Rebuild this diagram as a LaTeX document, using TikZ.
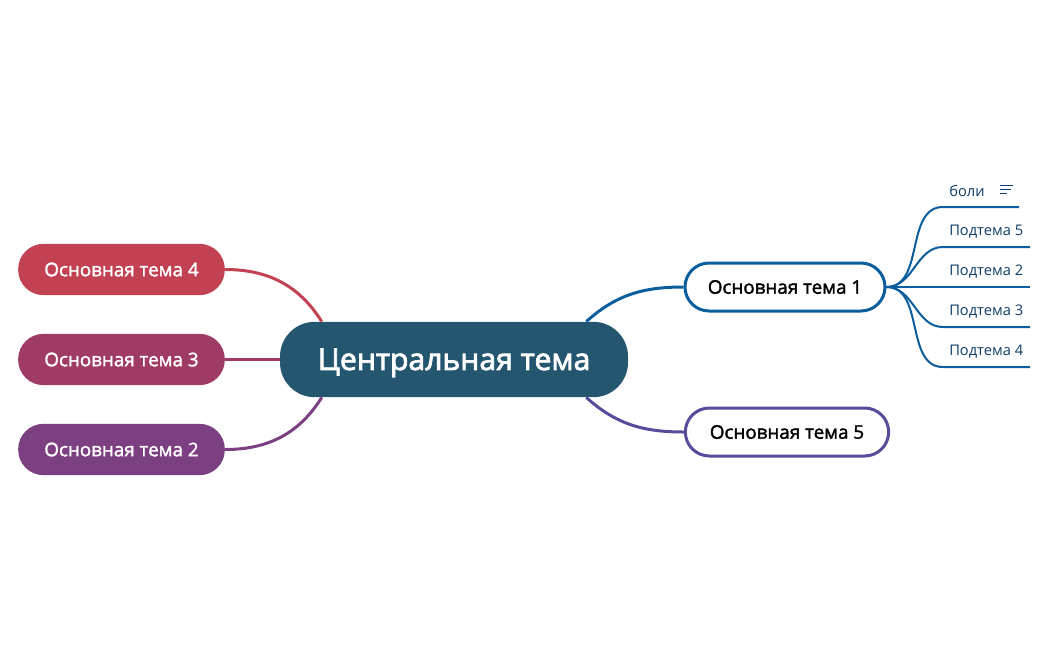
\documentclass[tikz,border=0pt]{standalone}
\usepackage{fontspec}
\setmainfont{Open Sans}
\newfontfamily\medfont[FakeBold=1.8]{Open Sans}
\newfontfamily\corefont[FakeBold=2.6]{Open Sans}
\definecolor{coreblue}{HTML}{24566F}
\definecolor{redtopic}{HTML}{C24152}
\definecolor{wine}{HTML}{A03B66}
\definecolor{plum}{HTML}{7C3F82}
\definecolor{seablue}{HTML}{0B5E9E}
\definecolor{indigo}{HTML}{574C9B}
\definecolor{subtext}{HTML}{0F3D66}
\tikzset{
    filledtopic/.style={rectangle,rounded corners=19pt,minimum width=155pt,minimum height=38.5pt,text=white,font=\medfont\fontsize{14.1pt}{16pt}\selectfont},
    linetopic/.style={rectangle,rounded corners=18pt,draw,line width=2.25pt,fill=white,minimum height=36pt,text=black,font=\medfont\fontsize{14.1pt}{16pt}\selectfont},
    subtopic/.style={anchor=west,inner sep=0pt,text=subtext,font=\fontsize{11pt}{13pt}\selectfont},
    branch/.style={line width=2.25pt},
    subbranch/.style={line width=1.5pt,seablue}
}
\begin{document}
\begin{tikzpicture}[x=0.75pt,y=-0.75pt]
            \useasboundingbox (0,0) rectangle (1048,650);

            \node[rectangle,rounded corners=26pt,fill=coreblue,minimum width=261pt,minimum height=56.5pt,text height=20pt,text depth=4.3pt,text=white,font=\corefont\fontsize{22.6pt}{26pt}\selectfont] (central) at (454,359.5) {Центральная тема};

            \begin{scope}[every node/.style={filledtopic}]
                \node[fill=redtopic] (topicD) at (121.5,269.5) {Основная тема 4};
                \node[fill=wine] (topicC) at (121.5,359.5) {Основная тема 3};
                \node[fill=plum] (topicB) at (121.5,449.5) {Основная тема 2};
            \end{scope}

            \begin{scope}[every node/.style={linetopic}]
                \node[draw=seablue,minimum width=150pt] (topicA) at (785,287) {Основная тема 1};
                \node[draw=indigo,minimum width=152.5pt] (topicE) at (787,432) {Основная тема 5};
            \end{scope}

            \begin{scope}[every node/.style={subtopic}]
                \node (pain) at (949,191) {боли};
                \node (subE) at (949,232) {Подтема 5};
                \node (subB) at (949,272) {Подтема 2};
                \node (subC) at (949,312) {Подтема 3};
                \node (subD) at (949,352) {Подтема 4};
            \end{scope}

            \begin{scope}[branch]
                \path [redtopic] (central.164.3) edge [out=122,in=0] (topicD.east);
                \path [wine] (central.west) edge (topicC.east);
                \path [plum] (central.196.7) edge [out=238,in=0] (topicB.east);
                \path [seablue] (central.16.3) edge [out=42,in=180] (topicA.west);
                \path [indigo] (central.-16.3) edge [out=-42,in=180] (topicE.west);
            \end{scope}

            % free ends of the sub-branches
            \coordinate (bendpain) at (943,207);
            \coordinate (endpain) at (1019,207);
            \foreach \name/\ypos in {E/247,B/287,C/327,D/367} {
                \coordinate (bend\name) at (943,\ypos);
                \coordinate (end\name) at (1030,\ypos);
            }

            \begin{scope}[subbranch]
                \foreach \name in {pain,E,B,C,D} {
                    \draw (topicA.east) to [out=0,in=180] (bend\name) -- (end\name);
                }
            \end{scope}

            % note icon next to the first label
            \foreach \ypos/\xend in {185/1013,189/1011,193/1007} {
                \draw [subtext,line width=0.6pt] (1000,\ypos) -- (\xend,\ypos);
            }
\end{tikzpicture}
\end{document}
